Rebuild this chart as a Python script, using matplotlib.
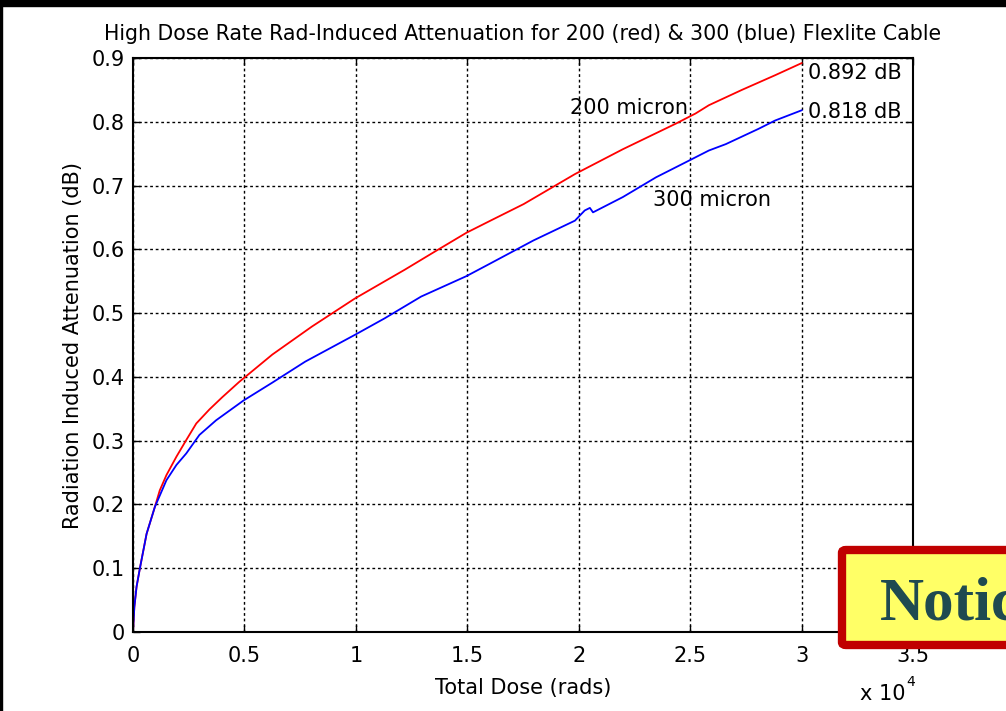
import matplotlib.pyplot as plt
from matplotlib.patches import FancyBboxPatch, Rectangle

plt.rcParams['font.family'] = ['DejaVu Sans']

# dose, in units of 1e4 rads
dose_200 = [0, 0.006, 0.016, 0.031, 0.061, 0.098, 0.120, 0.150, 0.195, 0.239,
            0.284, 0.343, 0.400, 0.476, 0.625, 0.803, 0.996, 1.219, 1.352, 1.496,
            1.604, 1.753, 1.983, 2.198, 2.435, 2.524, 2.584, 2.732, 2.881, 3.0]
att_200 = [0, 0.039, 0.071, 0.100, 0.154, 0.196, 0.222, 0.246, 0.275, 0.301,
           0.327, 0.349, 0.368, 0.392, 0.435, 0.479, 0.523, 0.568, 0.596, 0.626,
           0.645, 0.671, 0.718, 0.757, 0.797, 0.813, 0.826, 0.850, 0.873, 0.892]

dose_300 = [0, 0.006, 0.016, 0.031, 0.061, 0.098, 0.150, 0.195, 0.239, 0.298,
            0.373, 0.496, 0.625, 0.773, 0.996, 1.130, 1.293, 1.496, 1.604, 1.797,
            1.983, 2.027, 2.050, 2.064, 2.198, 2.347, 2.477, 2.584, 2.660, 2.807,
            2.881, 3.0]
att_300 = [0, 0.039, 0.071, 0.100, 0.154, 0.196, 0.238, 0.262, 0.280, 0.309,
           0.332, 0.363, 0.391, 0.424, 0.466, 0.492, 0.526, 0.558, 0.578, 0.614,
           0.645, 0.661, 0.665, 0.658, 0.682, 0.713, 0.736, 0.755, 0.765, 0.789,
           0.802, 0.818]

xticks = [0, 0.5, 1, 1.5, 2, 2.5, 3, 3.5]
yticks = [0, 0.1, 0.2, 0.3, 0.4, 0.5, 0.6, 0.7, 0.8, 0.9]

fs = 15

fig = plt.figure(figsize=(10.06, 7.11), dpi=100)
ax = fig.add_axes([0.1322, 0.1111, 0.7754, 0.8073])

ax.plot([d * 1e4 for d in dose_200], att_200, color='#ff0000', lw=1.3)
ax.plot([d * 1e4 for d in dose_300], att_300, color='#0000ff', lw=1.3)

ax.set_xlim(0, 35000)
ax.set_ylim(0, 0.9)
ax.set_xticks([t * 1e4 for t in xticks])
ax.set_xticklabels([f'{t:g}' for t in xticks])
ax.set_yticks(yticks)
ax.set_yticklabels([f'{t:g}' for t in yticks])
ax.tick_params(direction='in', top=True, right=True, length=5, width=1,
               labelsize=fs)
ax.tick_params(axis='x', pad=10)
ax.tick_params(axis='y', pad=6)
ax.grid(True, color='black', linestyle=(0, (2, 2)), linewidth=1)
for s in ax.spines.values():
    s.set_linewidth(1.5)

ax.set_title('High Dose Rate Rad-Induced Attenuation for 200 (red) & 300 (blue) Flexlite Cable',
             fontsize=14.8, pad=13)
ax.set_xlabel('Total Dose (rads)', fontsize=fs, labelpad=9)
ax.set_ylabel('Radiation Induced Attenuation (dB)', fontsize=fs, labelpad=6)

ax.text(19600, 0.822, '200 micron', fontsize=fs, va='center')
ax.text(23330, 0.678, '300 micron', fontsize=fs, va='center')
ax.text(30290, 0.876, '0.892 dB', fontsize=fs, va='center')
ax.text(30290, 0.816, '0.818 dB', fontsize=fs, va='center')

# MATLAB style exponent label
fig.text(860 / 1006, 1 - 694 / 711, 'x 10', fontsize=fs, va='center')
fig.text(906 / 1006, 1 - 682 / 711, '4', fontsize=10, va='center')

# slide frame
fig.patches.append(Rectangle((0, 1 - 6 / 711), 1, 6 / 711, transform=fig.transFigure,
                             color='black', zorder=10))
fig.patches.append(Rectangle((0, 0), 2 / 1006, 1, transform=fig.transFigure,
                             color='black', zorder=10))

# "Notice" box overlapping the corner
box = FancyBboxPatch((842 / 1006, 1 - 645 / 711), 200 / 1006, 95 / 711,
                     boxstyle='round,pad=0,rounding_size=0.004',
                     transform=fig.transFigure, facecolor='#ffff66',
                     edgecolor='#c00000', linewidth=6, zorder=20, clip_on=False)
fig.patches.append(box)
fig.text(880 / 1006, 1 - 620 / 711, 'Notice', fontsize=44, fontweight='bold',
         family=['Liberation Serif', 'DejaVu Serif'], color='#1f4a50',
         va='baseline', zorder=21)

fig.savefig('out.png', dpi=100)
